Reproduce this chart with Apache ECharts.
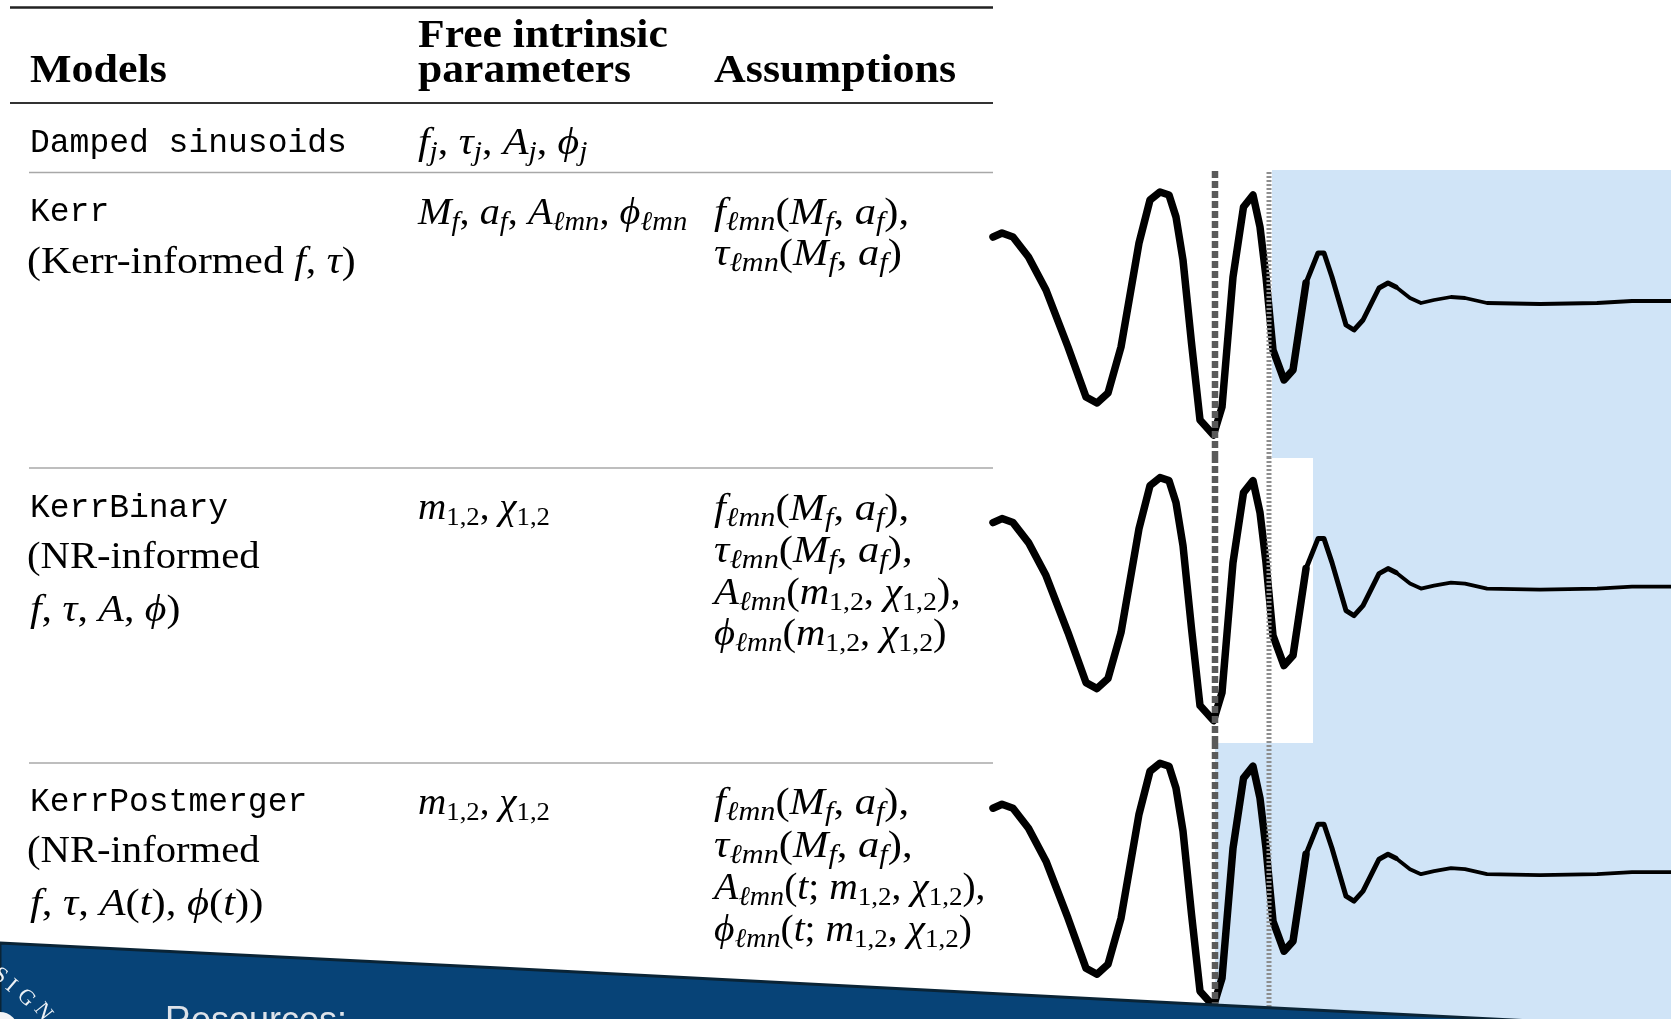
<!DOCTYPE html>
<html>
<head>
<meta charset="utf-8">
<script src="https://cdn.jsdelivr.net/npm/echarts@6/dist/echarts.min.js"></script>
<style>
  html, body { margin: 0; padding: 0; background: #fff; }
  #main { width: 1671px; height: 1019px; }
</style>
</head>
<body>
<div id="main"></div>
<script>
// ringdown sketch: time relative to peak (arb. units) and strain (arb. units)
var times = [-22.2, -21.3, -20.2, -18.65, -16.9, -14.7, -12.9, -11.8, -10.7, -9.4,
  -7.6, -6.5, -5.5, -4.6, -3.9, -3.2, -2.35, -1.5, -0.15, 0.7,
  1.8, 2.85, 3.8, 4.5, 5.1, 5.8, 6.9, 7.8, 9.1, 10.3,
  10.9, 11.7, 13.1, 13.9, 14.8, 16.4, 17.3, 18.1, 19.5, 20.6,
  21.9, 23.6, 25.0, 27.2, 32.5, 38.2, 41.7, 45.6];
var strain = [0.65, 0.69, 0.65, 0.45, 0.12, -0.45, -0.95, -1.01, -0.91, -0.45,
  0.59, 1.02, 1.10, 1.07, 0.85, 0.42, -0.41, -1.18, -1.33, -1.05,
  0.25, 0.95, 1.07, 0.75, 0.25, -0.48, -0.78, -0.68, 0.19, 0.49,
  0.49, 0.25, -0.23, -0.28, -0.18, 0.14, 0.19, 0.15, 0.04, -0.01,
  0.02, 0.05, 0.04, -0.01, -0.02, -0.01, 0.01, 0.01];

var peakTime = 0;          // dashed line
var startTime = 5.4;       // dotted line
var shadeStart = [5.7, 9.8, 0];   // Kerr, KerrBinary, KerrPostmerger
// the sketch stroke gets thinner as the signal rings down
var strokeBreaks = [9.1, 18.1];
var strokeWidths = [7.5, 5, 3.8];

// table text
var models = ['Damped sinusoids', 'Kerr', 'KerrBinary', 'KerrPostmerger'];

var chart = echarts.init(document.getElementById('main'));

var SERIF = 'Liberation Serif', MONO = 'Liberation Mono';
var rich = {
  b: { fontFamily: SERIF, fontWeight: 'bold', fontSize: 40, lineHeight: 44 },
  t: { fontFamily: MONO, fontSize: 33, lineHeight: 44 },
  r: { fontFamily: SERIF, fontSize: 38, lineHeight: 44 },
  i: { fontFamily: SERIF, fontStyle: 'italic', fontSize: 38, lineHeight: 44 },
  s: { fontFamily: SERIF, fontStyle: 'italic', fontSize: 27, lineHeight: 24, verticalAlign: 'bottom' },
  n: { fontFamily: SERIF, fontSize: 26, lineHeight: 24, verticalAlign: 'bottom' }
};

// base = baseline y, sx = horizontal stretch (CM fonts run wider)
function txt(x, base, str, sx) {
  return {
    type: 'text', x: x, y: base - 31, z: 10, scaleX: sx || 1.1,
    style: { text: str, rich: rich, fill: '#000', align: 'left', verticalAlign: 'top',
      textAlign: 'left', textVerticalAlign: 'top' }
  };
}
function rule(y, x0, w, c) {
  return { type: 'line', z: 10, shape: { x1: x0, y1: y, x2: 993, y2: y },
    style: { stroke: c, lineWidth: w } };
}

var fAss = '{i|f}{s|ℓmn}{r|(}{i|M}{s|f}{r|, }{i|a}{s|f}{r|),}';
var tAss = '{i|τ}{s|ℓmn}{r|(}{i|M}{s|f}{r|, }{i|a}{s|f}{r|)}';
var m12 = '{i|m}{n|1,2}{r|, }{i|χ}{n|1,2}';

var graphics = [
  rule(7.5, 10, 2.5, '#222'),
  rule(103, 10, 2, '#333'),
  rule(172.5, 29, 1.5, '#a8a8a8'),
  rule(468, 29, 1.5, '#a8a8a8'),
  rule(763, 29, 1.5, '#a8a8a8'),
  txt(30, 81, '{b|Models}', 1.1),
  txt(418, 46, '{b|Free intrinsic}', 1.09),
  txt(418, 81, '{b|parameters}', 1.09),
  txt(714, 81, '{b|Assumptions}', 1.1),

  txt(30, 152, '{t|' + models[0] + '}', 1),
  txt(418, 153, '{i|f}{s|j}{r|, }{i|τ}{s|j}{r|, }{i|A}{s|j}{r|, }{i|ϕ}{s|j}'),

  txt(30, 221, '{t|' + models[1] + '}', 1),
  txt(27, 272, '{r|(Kerr-informed }{i|f}{r|, }{i|τ}{r|)}'),
  txt(418, 223, '{i|M}{s|f}{r|, }{i|a}{s|f}{r|, }{i|A}{s|ℓmn}{r|, }{i|ϕ}{s|ℓmn}', 1.06),
  txt(714, 223, fAss, 1.12),
  txt(714, 264, tAss, 1.12),

  txt(30, 517, '{t|' + models[2] + '}', 1),
  txt(27, 567, '{r|(NR-informed}', 1.07),
  txt(30, 620, '{i|f}{r|, }{i|τ}{r|, }{i|A}{r|, }{i|ϕ}{r|)}'),
  txt(418, 518, m12, 1.03),
  txt(714, 519, fAss, 1.12),
  txt(714, 561, tAss.replace('{r|)}', '{r|),}'), 1.12),
  txt(714, 603, '{i|A}{s|ℓmn}{r|(}' + m12 + '{r|),}', 1.07),
  txt(714, 644, '{i|ϕ}{s|ℓmn}{r|(}' + m12 + '{r|)}', 1.07),

  txt(30, 811, '{t|' + models[3] + '}', 1),
  txt(27, 861, '{r|(NR-informed}', 1.07),
  txt(30, 914, '{i|f}{r|, }{i|τ}{r|, }{i|A}{r|(}{i|t}{r|), }{i|ϕ}{r|(}{i|t}{r|))}', 1.12),
  txt(418, 813, m12, 1.03),
  txt(714, 813, fAss, 1.12),
  txt(714, 856, tAss.replace('{r|)}', '{r|),}'), 1.12),
  txt(714, 898, '{i|A}{s|ℓmn}{r|(}{i|t}{r|; }' + m12 + '{r|),}', 1.04),
  txt(714, 940, '{i|ϕ}{s|ℓmn}{r|(}{i|t}{r|; }' + m12 + '{r|)}', 1.04),

  // footer banner
  { type: 'polygon', z: 100,
    shape: { points: [[0, 943], [500, 968], [1215, 1005], [1671, 1028], [1671, 1040], [0, 1040]] },
    style: { fill: '#074377', stroke: '#0a2436', lineWidth: 3 } },
  { type: 'text', z: 101, x: 165, y: 1004,
    style: { text: 'Resources:', fill: '#dde2e9', font: '36px "Liberation Sans"', verticalAlign: 'top', textVerticalAlign: 'top' } },
  { type: 'circle', z: 101, shape: { cx: 0, cy: 1030, r: 18 }, style: { fill: '#f2f4f7' } }
];
var logo = ['S', 'I', 'G', 'N'];
var logoPos = [[0, 976], [11, 986], [26, 998], [43, 1012]];
logo.forEach(function (ch, k) {
  graphics.push({ type: 'text', z: 101, x: logoPos[k][0], y: logoPos[k][1], rotation: -0.6 - k * 0.1,
    style: { text: ch, fill: '#eef2f6', font: '22px "Liberation Serif"', align: 'center', verticalAlign: 'middle',
      textAlign: 'center', textVerticalAlign: 'middle' } });
});

var panelTop = [170, 458, 743];
var panelHeight = [288, 285, 276];
var yMax = [1.32, 1.296, 1.302];
var yMin = [-1.56, -1.554, -1.458];

var wave = times.map(function (t, k) { return [t, strain[k]]; });
var bounds = [times[0]].concat(strokeBreaks, [times[times.length - 1]]);
var pieces = strokeWidths.map(function (w, k) {
  return wave.filter(function (p) { return p[0] >= bounds[k] && p[0] <= bounds[k + 1]; });
});

var grids = [], xAxes = [], yAxes = [], series = [];
for (var g = 0; g < 3; g++) {
  grids.push({ left: 993, width: 678, top: panelTop[g], height: panelHeight[g] });
  xAxes.push({ gridIndex: g, type: 'value', min: times[0], max: times[times.length - 1], show: false });
  yAxes.push({ gridIndex: g, type: 'value', min: yMin[g], max: yMax[g], show: false });
  series.push({
    type: 'line', xAxisIndex: g, yAxisIndex: g, data: [], z: 1, silent: true,
    markArea: { silent: true, itemStyle: { color: '#d0e4f7', opacity: 1 },
      data: [[{ xAxis: shadeStart[g] }, { xAxis: times[times.length - 1] }]] }
  });
  pieces.forEach(function (piece, k) {
    series.push({
      type: 'line', xAxisIndex: g, yAxisIndex: g, data: piece, z: 2, silent: true,
      showSymbol: false, lineStyle: { color: '#000', width: strokeWidths[k], join: 'round', cap: 'round' }
    });
  });
  // peak time (dashed) and analysis start (dotted) across the full panel
  series.push({
    type: 'line', xAxisIndex: g, yAxisIndex: g, z: 3, silent: true, showSymbol: false,
    data: [[peakTime, yMin[g]], [peakTime, yMax[g]]],
    lineStyle: { color: '#5a5a5a', width: 6.5, type: [7, 3] }
  });
  series.push({
    type: 'line', xAxisIndex: g, yAxisIndex: g, z: 3, silent: true, showSymbol: false,
    data: [[startTime, yMin[g]], [startTime, yMax[g]]],
    lineStyle: { color: '#8e8e8e', width: 5, type: [2, 2] }
  });
}

chart.setOption({
  animation: false,
  backgroundColor: '#fff',
  grid: grids,
  xAxis: xAxes,
  yAxis: yAxes,
  series: series,
  graphic: { elements: graphics }
});
</script>
</body>
</html>
